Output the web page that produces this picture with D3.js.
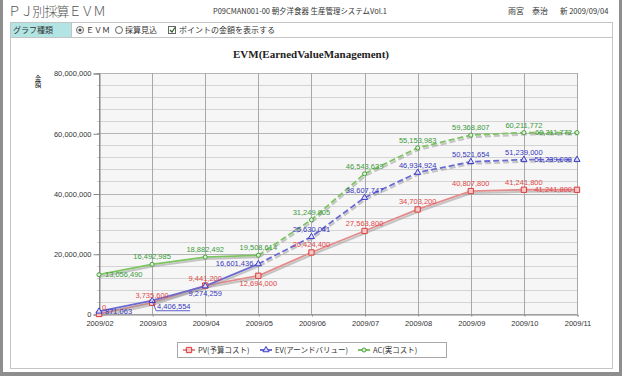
<!DOCTYPE html>
<html><head><meta charset="utf-8">
<script src="https://cdn.jsdelivr.net/npm/d3@7"></script>
<style>html,body{margin:0;padding:0;background:#fff;}svg{display:block;}</style>
</head><body>
<script>
// ---- data ----
const months = ["2009/02","2009/03","2009/04","2009/05","2009/06","2009/07","2009/08","2009/09","2009/10","2009/11"];
const pvValues = [0,3735600,9441200,12694000,20424400,27563800,34703200,40807800,41241800,41241800];
const evValues = [871063,4406554,9274259,16601436,25630041,38607747,46934924,50521654,51239000,51239000];
const acValues = [13056490,16492985,18882492,19508614,31249905,46543639,55153983,59368807,60211772,60211772];
const yTickValues = [0,20000000,40000000,60000000,80000000];
const seriesNames = ["PV(予算コスト)","EV(アーンドバリュー)","AC(実コスト)"];
const actualCount = 4; // months up to 2009/05 are actuals (solid), later dashed forecast

// label placement codes (layout, not data)
const pvPlace = ["ar","a","a","b","a","a","a","a","a","l"];
const evPlace = ["r","u","b","l","a","a","a","a","a","l"];
const acPlace = ["r","a","a","a","a","a","a","a","a","l"];

const W=622,H=376;
const svg=d3.select("body").append("svg").attr("width",W).attr("height",H);
const JP="'Noto Sans CJK JP','Noto Sans',sans-serif";
const NUM="'Liberation Sans',Arial,sans-serif";

// frame
svg.append("rect").attr("width",W).attr("height",H).attr("fill","#8e8e8e");
svg.append("rect").attr("x",3).attr("y",0).attr("width",616).attr("height",372).attr("fill","#fff");
svg.append("rect").attr("x",10.5).attr("y",22.5).attr("width",602).attr("height",346).attr("fill","#fff").attr("stroke","#c4c4c4");
svg.append("rect").attr("x",11).attr("y",23).attr("width",60).attr("height",14).attr("fill","#b2e4e4");
svg.append("line").attr("x1",71.5).attr("x2",71.5).attr("y1",22.5).attr("y2",37.5).attr("stroke","#c4c4c4");
svg.append("line").attr("x1",10.5).attr("x2",612.5).attr("y1",37.5).attr("y2",37.5).attr("stroke","#c4c4c4");

// header
svg.append("text").attr("x",8).attr("y",16).attr("font-family",JP).attr("font-size",13).attr("font-weight",300).attr("fill","#555")
  .attr("textLength",98).attr("lengthAdjust","spacing").text("ＰＪ別採算ＥＶＭ");
svg.append("text").attr("x",213).attr("y",14).attr("font-family",JP).attr("font-size",7.5).attr("fill","#333")
  .attr("textLength",174).attr("lengthAdjust","spacingAndGlyphs").text("P09CMAN001-00 朝夕洋食器 生産管理システムVol.1");
svg.append("text").attr("x",508).attr("y",14).attr("font-family",JP).attr("font-size",8).attr("fill","#333").text("雨宮　泰治");
svg.append("text").attr("x",560).attr("y",14).attr("font-family",JP).attr("font-size",7.5).attr("fill","#333").text("新 2009/09/04");

// toolbar
svg.append("text").attr("x",13).attr("y",33).attr("font-family",JP).attr("font-size",8).attr("fill","#333").text("グラフ種類");
svg.append("circle").attr("cx",80).attr("cy",30).attr("r",3.5).attr("fill","#fff").attr("stroke","#666");
svg.append("circle").attr("cx",80).attr("cy",30).attr("r",1.6).attr("fill","#444");
svg.append("text").attr("x",86).attr("y",33).attr("font-family",JP).attr("font-size",8).attr("fill","#333").text("ＥＶＭ");
svg.append("circle").attr("cx",119).attr("cy",30).attr("r",3.5).attr("fill","#fff").attr("stroke","#666");
svg.append("text").attr("x",125).attr("y",33).attr("font-family",JP).attr("font-size",8).attr("fill","#333").text("採算見込");
svg.append("rect").attr("x",168.5).attr("y",26.5).attr("width",7).attr("height",7).attr("fill","#fff").attr("stroke","#666");
svg.append("path").attr("d","M170,30 L172,32 L175,27.5").attr("fill","none").attr("stroke","#226622").attr("stroke-width",1.2);
svg.append("text").attr("x",179).attr("y",33).attr("font-family",JP).attr("font-size",8).attr("fill","#333").text("ポイントの金額を表示する");

// chart title
svg.append("text").attr("x",311).attr("y",58).attr("text-anchor","middle").attr("font-family","'Liberation Serif','Times New Roman',serif")
  .attr("font-weight","bold").attr("font-size",11).attr("fill","#222").text("EVM(EarnedValueManagement)");
// y label (vertical)
svg.append("text").attr("x",38).attr("y",75).attr("font-family",JP).attr("font-size",6.5).attr("fill","#222")
  .style("writing-mode","vertical-rl").style("text-orientation","upright").text("金額");

// scales
const x=d3.scalePoint().domain(months).range([99,577]);
const y=d3.scaleLinear().domain([0,80000000]).range([314,73]);

// plot bg
svg.append("rect").attr("x",99).attr("y",73).attr("width",478).attr("height",241).attr("fill","#f6f6f6");
const minor=d3.range(0,80000001,4000000);
svg.append("g").selectAll("line").data(minor).join("line")
  .attr("x1",97).attr("x2",577).attr("y1",d=>Math.round(y(d))+0.5).attr("y2",d=>Math.round(y(d))+0.5)
  .attr("stroke",d=>d%20000000===0?"#b4b4b4":"#d4d4d4");
svg.append("g").selectAll("line").data(months).join("line")
  .attr("x1",d=>Math.round(x(d))+0.5).attr("x2",d=>Math.round(x(d))+0.5).attr("y1",73).attr("y2",314)
  .attr("stroke",(d,i)=>i===0?"#888":"#a8a8a8");

// axes
const yAxis=svg.append("g").attr("transform","translate(99.5,0.5)")
  .call(d3.axisLeft(y).tickValues(yTickValues).tickFormat(d3.format(",")).tickSize(6).tickPadding(2));
yAxis.select(".domain").attr("stroke","#888");
yAxis.selectAll(".tick line").attr("stroke","#888");
yAxis.selectAll("text").attr("font-family",NUM).attr("font-size",7.5).attr("fill","#333");
const xAxis=svg.append("g").attr("transform","translate(0.5,314.5)")
  .call(d3.axisBottom(x).tickSize(2).tickPadding(4));
xAxis.select(".domain").attr("stroke","#888");
xAxis.selectAll(".tick line").attr("stroke","#888");
xAxis.selectAll("text").attr("font-family",NUM).attr("font-size",7.5).attr("fill","#333");

// series
const series=[
  {name:seriesNames[0],vals:pvValues,place:pvPlace,line:"#e48a8a",mark:"#dd3c3c",fill:"#f6c8c8",text:"#e04848",shape:"square",dashAfter:false},
  {name:seriesNames[1],vals:evValues,place:evPlace,line:"#6a6ad0",mark:"#3c3cc8",fill:"#dcdcf6",text:"#3838c0",shape:"triangle",dashAfter:true},
  {name:seriesNames[2],vals:acValues,place:acPlace,line:"#7cc460",mark:"#4aa040",fill:"#dcf0d4",text:"#3c9a3c",shape:"circle",dashAfter:true}
];
const lineGen=d3.line().x(d=>x(d.m)).y(d=>y(d.v));
const sym={square:d3.symbol(d3.symbolSquare,28),triangle:d3.symbol(d3.symbolTriangle,16),circle:d3.symbol(d3.symbolCircle,13)};

series.forEach(s=>{
  const pts=s.vals.map((v,i)=>({m:months[i],v:v}));
  const segs=s.dashAfter?[{d:pts.slice(0,actualCount),dash:null},{d:pts.slice(actualCount-1),dash:"6,3"}]:[{d:pts,dash:null}];
  segs.forEach(sg=>{
    svg.append("path").attr("d",lineGen(sg.d)).attr("fill","none").attr("stroke","#9a9a9a").attr("stroke-opacity",0.55)
      .attr("stroke-width",2).attr("transform","translate(1,2)").attr("stroke-dasharray",sg.dash);
    svg.append("path").attr("d",lineGen(sg.d)).attr("fill","none").attr("stroke",s.line)
      .attr("stroke-width",1.8).attr("stroke-dasharray",sg.dash);
  });
});
series.forEach(s=>{
  const pts=s.vals.map((v,i)=>({m:months[i],v:v}));
  svg.append("g").selectAll("path").data(pts).join("path")
    .attr("d",sym[s.shape]).attr("transform",d=>`translate(${x(d.m)},${y(d.v)})`)
    .attr("fill",s.fill).attr("stroke",s.mark).attr("stroke-width",1);
});
// labels
const fmt=d3.format(",");
series.forEach(s=>{
  s.vals.forEach((v,i)=>{
    const px=x(months[i]),py=y(v),p=s.place[i];
    let tx=px,ty=py-5,anchor="middle";
    if(p==="b"){ty=py+10;}
    else if(p==="l"){tx=px-5;ty=py+2.5;anchor="end";}
    else if(p==="r"){tx=px+6;ty=py+2.5;anchor="start";}
    else if(p==="ar"){tx=px+3;ty=py-4;anchor="start";}
    else if(p==="u"){tx=px+5;ty=py+8;anchor="start";
      svg.append("path").attr("d",`M${px},${py} L${px+4},${py+10} L${px+38},${py+10}`).attr("fill","none").attr("stroke",s.text).attr("stroke-width",0.8);}
    svg.append("text").attr("x",tx).attr("y",ty).attr("text-anchor",anchor).attr("font-family",NUM)
      .attr("font-size",7.5).attr("fill",s.text).text(fmt(v));
  });
});

// legend
svg.append("rect").attr("x",177.5).attr("y",342.5).attr("width",269).attr("height",15).attr("fill","#fff").attr("stroke","#a8a8a8");
const legX=[183,260,358];
series.forEach((s,i)=>{
  const g=svg.append("g").attr("transform",`translate(${legX[i]},350)`);
  g.append("line").attr("x1",0).attr("x2",12).attr("stroke",s.line).attr("stroke-width",2);
  g.append("path").attr("d",sym[s.shape]).attr("transform","translate(6,0)").attr("fill",s.fill).attr("stroke",s.mark);
  g.append("text").attr("x",15).attr("y",3).attr("font-family",JP).attr("font-size",7.5).attr("fill","#333").text(s.name);
});
</script>
</body></html>
